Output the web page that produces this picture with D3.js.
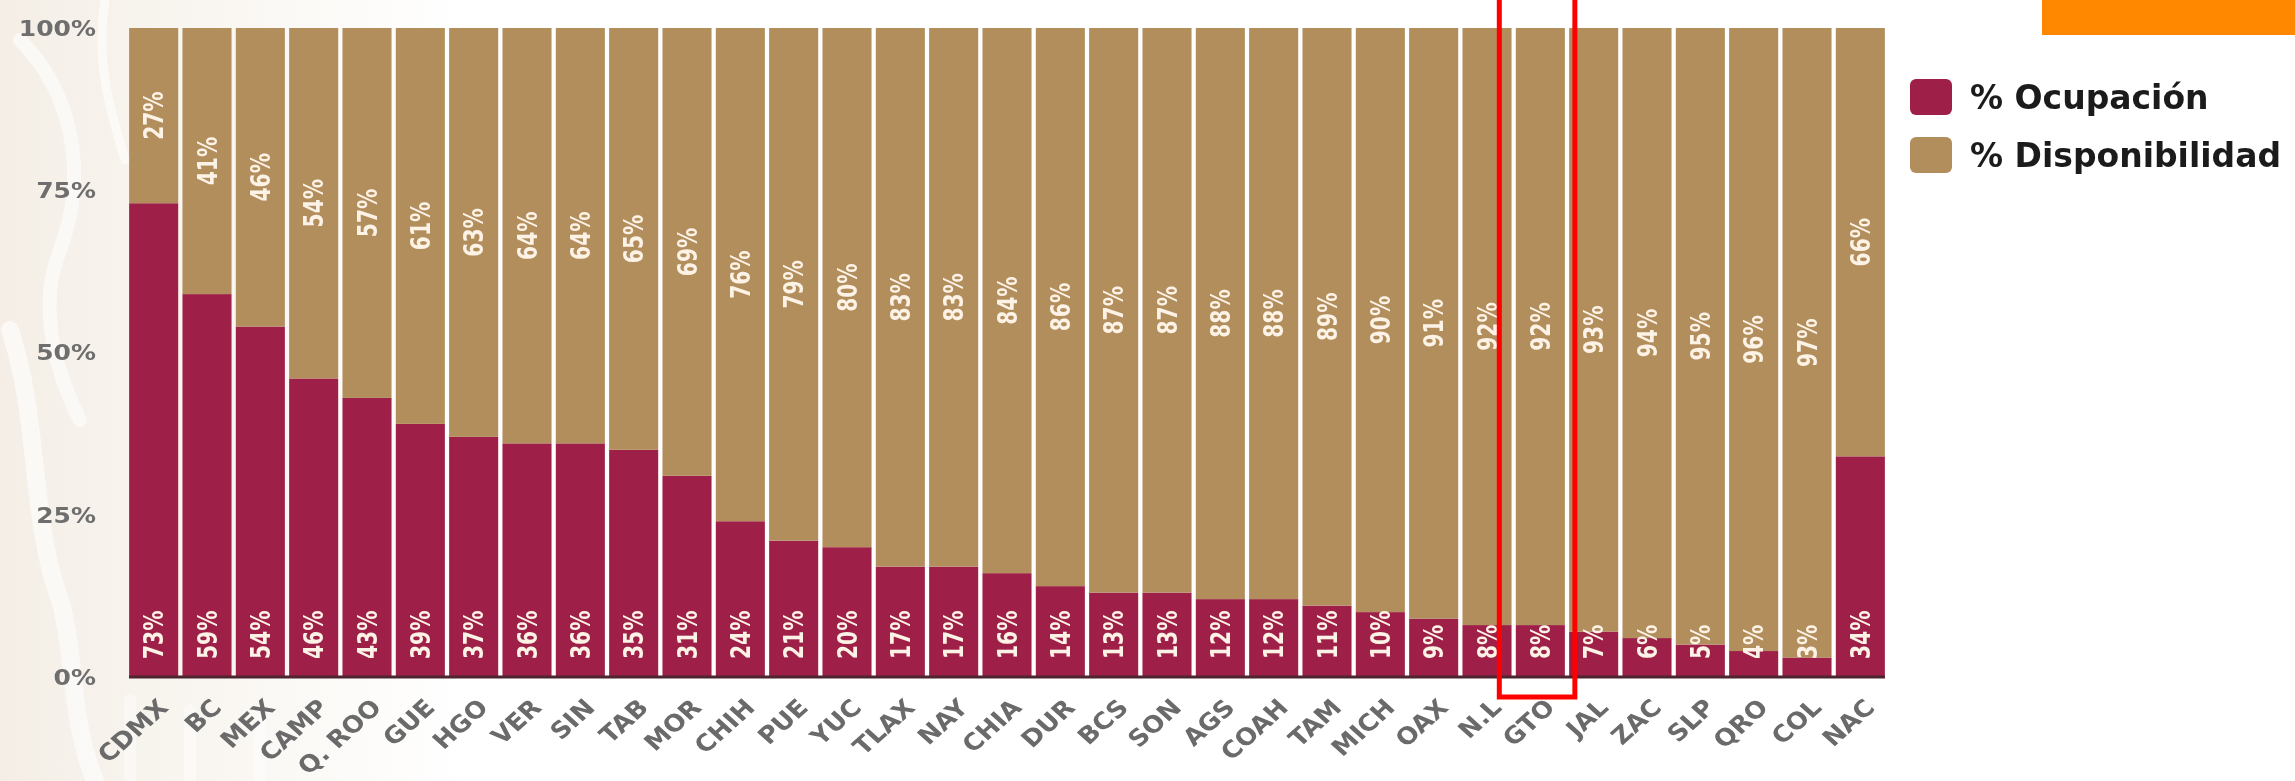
<!DOCTYPE html>
<html>
<head>
<meta charset="utf-8">
<script src="https://cdn.jsdelivr.net/npm/d3@7"></script>
<style>
  html, body { margin: 0; padding: 0; background: #ffffff; }
  svg { display: block; }
</style>
</head>
<body>
<svg id="chart" width="2295" height="781"></svg>
<script>
// States ordered by hospital bed occupancy, national total last
const categories = ["CDMX","BC","MEX","CAMP","Q. ROO","GUE","HGO","VER","SIN","TAB","MOR","CHIH","PUE","YUC","TLAX","NAY","CHIA","DUR","BCS","SON","AGS","COAH","TAM","MICH","OAX","N.L","GTO","JAL","ZAC","SLP","QRO","COL","NAC"];
const ocupacion = [73,59,54,46,43,39,37,36,36,35,31,24,21,20,17,17,16,14,13,13,12,12,11,10,9,8,8,7,6,5,4,3,34];
const disponibilidad = [27,41,46,54,57,61,63,64,64,65,69,76,79,80,83,83,84,86,87,87,88,88,89,90,91,92,92,93,94,95,96,97,66];
const tickValues = [0,25,50,75,100];
const tickLabels = ["0%","25%","50%","75%","100%"];
const seriesNames = ["% Ocupación","% Disponibilidad"];
const highlighted = "GTO";

const W = 2295, H = 781;
const colors = { ocupacion: "#9e1f48", disponibilidad: "#b38e5d" };
const FONT = "'DejaVu Sans', sans-serif";

const svg = d3.select("#chart");

// soft decorative backdrop on the left edge
const defs = svg.append("defs");
const grad = defs.append("linearGradient").attr("id","bgfade").attr("x1","0").attr("x2","1").attr("y1","0").attr("y2","0");
grad.append("stop").attr("offset","0").attr("stop-color","#f4eee6");
grad.append("stop").attr("offset","0.45").attr("stop-color","#f9f6f1");
grad.append("stop").attr("offset","1").attr("stop-color","#ffffff");
svg.append("rect").attr("x",0).attr("y",0).attr("width",460).attr("height",H).attr("fill","url(#bgfade)");
const deco = svg.append("g").attr("fill","none").attr("stroke","#ffffff").attr("stroke-linecap","round").attr("opacity",0.6);
deco.append("path").attr("d","M20,40 C70,90 90,170 60,250 C40,300 50,360 80,420").attr("stroke-width",14);
deco.append("path").attr("d","M10,330 C40,420 30,520 60,600 C75,650 70,720 95,781").attr("stroke-width",18);
deco.append("path").attr("d","M105,0 C95,60 110,110 125,160").attr("stroke-width",9);
deco.append("path").attr("d","M130,700 L130,781 M190,710 L190,781 M260,720 L260,781").attr("stroke-width",12).attr("opacity",0.7);

const x = d3.scaleBand().domain(categories).range([127, 1887]).paddingInner(0.08).paddingOuter(0.04);
const y = d3.scaleLinear().domain([0, 100]).range([677, 28]);

const table = categories.map((c, i) => ({ cat: c, ocupacion: ocupacion[i], disponibilidad: disponibilidad[i] }));
const stacked = d3.stack().keys(["ocupacion","disponibilidad"])(table);

// stacked bars
const layers = svg.append("g").selectAll("g").data(stacked).join("g").attr("fill", d => colors[d.key]);
layers.selectAll("rect").data(d => d).join("rect")
  .attr("x", d => x(d.data.cat))
  .attr("y", d => y(d[1]))
  .attr("width", x.bandwidth())
  .attr("height", d => y(d[0]) - y(d[1]));

// baseline
svg.append("line").attr("x1", x.range()[0] + 2).attr("x2", x.range()[1] - 2)
  .attr("y1", y(0)).attr("y2", y(0)).attr("stroke","#4d2430").attr("stroke-width",3);

// value labels inside the bars
const labelColor = "#fcf2e6";
const labels = svg.append("g").attr("font-family", FONT).attr("font-weight","bold").attr("font-size",27).attr("fill",labelColor);
// occupation: anchored near the bottom of each bar
labels.selectAll("text.oc").data(table).join("text").attr("class","oc")
  .attr("transform", d => `translate(${x(d.cat) + x.bandwidth()/2},${y(0) - 18}) scale(1,0.75) rotate(-90)`)
  .attr("text-anchor","start").attr("dy","0.36em")
  .text(d => d.ocupacion + "%");
// availability: centred in its segment
labels.selectAll("text.di").data(stacked[1]).join("text").attr("class","di")
  .attr("transform", d => `translate(${x(d.data.cat) + x.bandwidth()/2},${(y(d[0]) + y(d[1]))/2}) scale(1,0.75) rotate(-90)`)
  .attr("text-anchor","middle").attr("dy","0.36em")
  .text(d => d.data.disponibilidad + "%");

// y axis tick labels
const yAxis = svg.append("g").attr("font-family", FONT).attr("font-weight","bold").attr("font-size",25).attr("fill","#6e6e6e");
yAxis.selectAll("text").data(tickValues).join("text")
  .attr("transform", d => `translate(96,${y(d)}) scale(1,0.88)`)
  .attr("text-anchor","end").attr("dy","0.36em")
  .text((d, i) => tickLabels[i]);

// category labels, slanted
const xAxis = svg.append("g").attr("font-family", FONT).attr("font-weight","bold").attr("font-size",26).attr("fill","#6a6a6a");
xAxis.selectAll("text").data(categories).join("text")
  .attr("transform", d => `translate(${x(d) + x.bandwidth()/2 + 16},${709}) scale(1,0.9) rotate(-45)`)
  .attr("text-anchor","end")
  .text(d => d);

// highlight frame around one state
svg.append("rect")
  .attr("x", x(highlighted) - 16.5)
  .attr("y", -5)
  .attr("width", x.bandwidth() + 26.5)
  .attr("height", 702)
  .attr("fill","none").attr("stroke","#ff0000").attr("stroke-width",5);

// legend
const legend = svg.append("g").attr("font-family", FONT).attr("font-weight","bold").attr("font-size",33).attr("fill","#1b1b1b");
const legendKeys = ["ocupacion","disponibilidad"];
legendKeys.forEach((k, i) => {
  const cy = 97 + i * 58;
  legend.append("rect").attr("x",1910).attr("y",cy - 18).attr("width",42).attr("height",36).attr("rx",6).attr("fill",colors[k]);
  legend.append("text").attr("x",1970).attr("y",cy).attr("dy","0.36em").text(seriesNames[i]);
});

// orange tab, top right
svg.append("rect").attr("x",2042).attr("y",0).attr("width",W - 2042).attr("height",35).attr("fill","#ff8800");
</script>
</body>
</html>
